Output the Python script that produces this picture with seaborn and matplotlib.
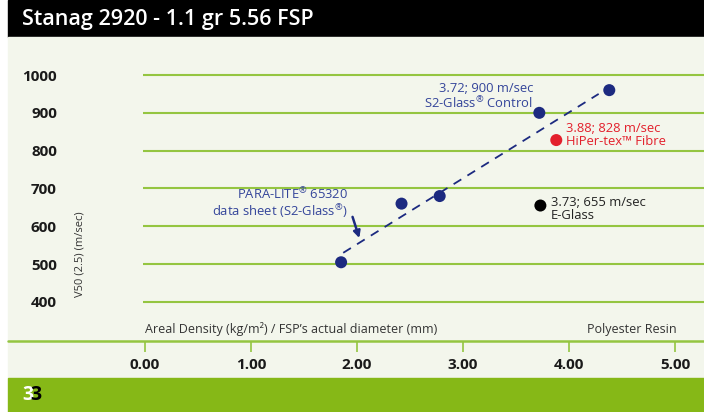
import matplotlib
matplotlib.use("Agg")
import matplotlib.pyplot as plt
from matplotlib.patches import Rectangle
from matplotlib.lines import Line2D
import seaborn as sns
import pandas as pd

# ── data ────────────────────────────────────────────────────
s2_density = [1.85, 2.42, 2.78, 3.72, 4.38]
s2_v50 = [505, 660, 680, 900, 960]
hiper_density = [3.88]
hiper_v50 = [828]
eglass_density = [3.73]
eglass_v50 = [655]
trend_density = [1.87, 4.28]
trend_v50 = [530, 950]

x_ticks = [0, 1, 2, 3, 4, 5]
x_tick_labels = ["0.00", "1.00", "2.00", "3.00", "4.00", "5.00"]
y_ticks = [400, 500, 600, 700, 800, 900, 1000]

# ── colours ──────────────────────────────────────────────────
NAVY = "#1c2a80"
NAVY_TXT = "#34459a"
RED = "#e3202c"
GREEN_LINE = "#94c541"
GREEN_BAR = "#86b817"
CREAM = "#f3f6ec"

sns.set_theme(style="white")
plt.rcParams["font.family"] = ["Open Sans", "DejaVu Sans"]
plt.rcParams["mathtext.fontset"] = "custom"
plt.rcParams["mathtext.rm"] = "Open Sans"

W, H = 704, 412
fig = plt.figure(figsize=(W / 100, H / 100), dpi=100)
fig.patch.set_facecolor("white")

REG = r"$^{\circledR}$"


def px(x0, y0, x1, y1):
    # pixel box (top-left origin) -> figure fraction rect
    return [x0 / W, 1 - y1 / H, (x1 - x0) / W, (y1 - y0) / H]


# background bands (drawn below the axes)
for y0, y1, col in [(0, 37, "black"), (37, 378, CREAM), (378, 412, GREEN_BAR)]:
    fig.patches.append(Rectangle((8 / W, 1 - y1 / H), 1, (y1 - y0) / H,
                                 transform=fig.transFigure, color=col, zorder=-10))

fig.text(22 / W, 1 - 19 / H, "Stanag 2920 - 1.1 gr 5.56 FSP", color="white",
         fontsize=15.5, fontweight="semibold", va="center", ha="left")
fig.text(22 / W, 1 - 395 / H, "3", color="white", fontsize=14, fontweight="bold",
         va="center", ha="left")
fig.text(30 / W, 1 - 395 / H, "3", color="black", fontsize=14, fontweight="bold",
         va="center", ha="left")

# ── main axes ────────────────────────────────────────────────
ax = fig.add_axes(px(143, 45, 704, 320))
ax.set_facecolor("none")
ax.yaxis.grid(True, color=GREEN_LINE, lw=1.5)
ax.xaxis.grid(False)
for sp in ax.spines.values():
    sp.set_visible(False)
ax.set_axisbelow(True)

trend = pd.DataFrame({"d": trend_density, "v": trend_v50})
sns.lineplot(data=trend, x="d", y="v", ax=ax, color=NAVY, lw=1.3,
             linestyle=(0, (5, 4)), zorder=2)

s2 = pd.DataFrame({"d": s2_density, "v": s2_v50})
sns.scatterplot(data=s2, x="d", y="v", ax=ax, color=NAVY, s=75, edgecolor="none", zorder=3)
sns.scatterplot(x=hiper_density, y=hiper_v50, ax=ax, color=RED, s=75, edgecolor="none", zorder=3)
sns.scatterplot(x=eglass_density, y=eglass_v50, ax=ax, color="black", s=75, edgecolor="none", zorder=3)
ax.set_xlabel("")
ax.set_ylabel("")
ax.set_xlim(-0.0189, 5.2736)
ax.set_ylim(352.4, 1079.3)
ax.set_yticks(y_ticks)
ax.set_yticklabels([str(v) for v in y_ticks], fontsize=11, fontweight="bold", color="#1a1a1a")
ax.tick_params(axis="y", length=0, pad=62)
ax.set_xticks([])

ax.text(3.66, 944, "3.72; 900 m/sec\nS2-Glass" + REG + " Control", color=NAVY_TXT,
        fontsize=9.4, ha="right", va="center", linespacing=1.0)
ax.text(3.97, 841, "3.88; 828 m/sec\nHiPer-tex\u2122 Fibre", color=RED, fontsize=9.4,
        ha="left", va="center", linespacing=1.0)
ax.text(3.83, 646, "3.73; 655 m/sec\nE-Glass", color="#222222", fontsize=9.4,
        ha="left", va="center", linespacing=1.0)
ax.text(1.915, 662, "PARA-LITE" + REG + " 65320\ndata sheet (S2-Glass" + REG + ")",
        color=NAVY_TXT, fontsize=9.4, ha="right", va="center", linespacing=1.05)
ax.annotate("", xy=(2.03, 562), xytext=(1.95, 632),
            arrowprops=dict(arrowstyle="-|>", color=NAVY, lw=1.8, mutation_scale=10))

fig.text(80 / W, 1 - 254 / H, "V50 (2.5) (m/sec)", rotation=90, fontsize=8,
         color="#333333", ha="center", va="center")
fig.text(145 / W, 1 - 329 / H, "Areal Density (kg/m\u00b2) / FSP\u2019s actual diameter (mm)",
         fontsize=9, color="#333333", ha="left", va="center")
fig.text(677 / W, 1 - 329 / H, "Polyester Resin", fontsize=9, color="#333333",
         ha="right", va="center")

# ── x scale strip ────────────────────────────────────────────
fig.add_artist(Line2D([8 / W, 1], [1 - 341 / H, 1 - 341 / H], transform=fig.transFigure,
                      color=GREEN_LINE, lw=1.8))
ax_x = fig.add_axes(px(143, 341, 704, 352))
ax_x.set_facecolor("none")
ax_x.set_xlim(ax.get_xlim())
ax_x.set_yticks([])
ax_x.set_xticks(x_ticks)
ax_x.set_xticklabels(x_tick_labels, fontsize=11, fontweight="bold", color="#1a1a1a")
ax_x.tick_params(axis="x", top=True, bottom=False, labeltop=False, labelbottom=True,
                 direction="in", length=8, width=1.2, color=GREEN_LINE, pad=4)
for sp in ax_x.spines.values():
    sp.set_visible(False)

fig.savefig("out.png", dpi=100)
